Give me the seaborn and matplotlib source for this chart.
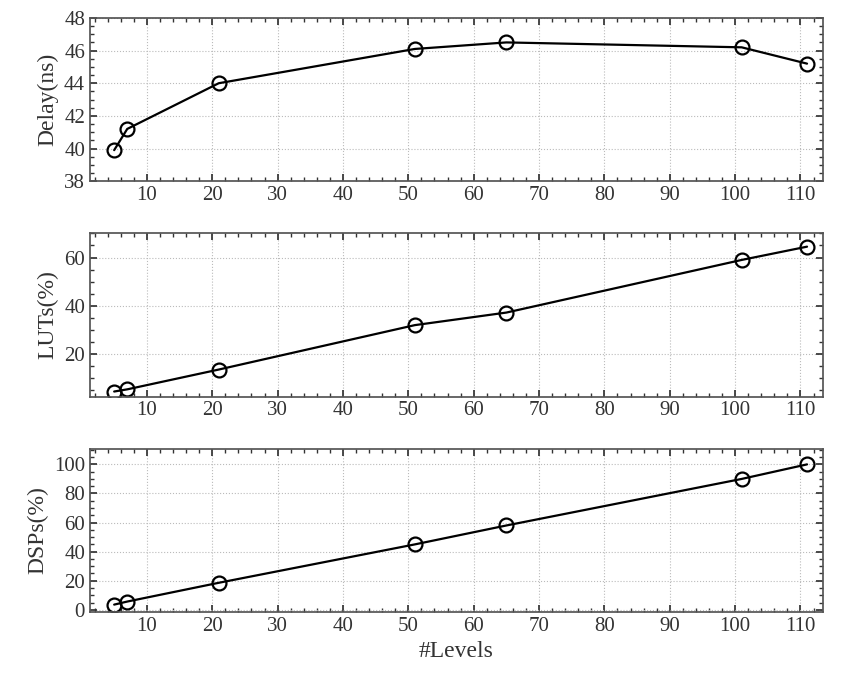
import numpy as np
import pandas as pd
import seaborn as sns
import matplotlib.pyplot as plt
from matplotlib.ticker import MultipleLocator

levels = [5, 7, 21, 51, 65, 101, 111]
delay = [39.9, 41.2, 44.0, 46.1, 46.5, 46.2, 45.2]
luts = [4.5, 5.4, 13.6, 32.0, 37.2, 59.0, 64.5]
dsps = [3.6, 5.7, 18.6, 45.0, 58.0, 90.0, 100.0]

sns.set_theme(style="ticks")
plt.rcParams['font.family'] = ['Liberation Serif', 'DejaVu Serif']

df = pd.DataFrame({'levels': levels, 'Delay(ns)': delay, 'LUTs(%)': luts, 'DSPs(%)': dsps})

fig, axes = plt.subplots(3, 1, figsize=(8.57, 6.9), dpi=100)
fig.subplots_adjust(left=0.105, right=0.96, top=0.974, bottom=0.113, hspace=0.32)

cfg = [
    ('Delay(ns)', (38, 48), 2, 0.5),
    ('LUTs(%)', (2.4, 70), 20, 5),
    ('DSPs(%)', (-1.5, 110.7), 20, 5),
]
for ax, (col, ylim, maj, mnr) in zip(axes, cfg):
    sns.lineplot(data=df, x='levels', y=col, ax=ax, color='black', lw=1.6,
                 marker='o', markersize=10, markerfacecolor='none',
                 markeredgecolor='black', markeredgewidth=1.6)
    ax.set_xlim(1.3, 113.4)
    ax.set_ylim(*ylim)
    ax.xaxis.set_major_locator(MultipleLocator(10))
    ax.xaxis.set_minor_locator(MultipleLocator(2))
    ax.yaxis.set_major_locator(MultipleLocator(maj))
    ax.yaxis.set_minor_locator(MultipleLocator(mnr))
    ax.tick_params(which='both', direction='in', top=True, right=True,
                   labelsize=15, colors='#333333')
    ax.tick_params(which='major', length=5)
    ax.tick_params(which='minor', length=3)
    ax.grid(True, which='major', ls=':', color='#bbbbbb', lw=0.8)
    for s in ax.spines.values():
        s.set_color('#555555')
    ax.set_ylabel(col, fontsize=17, color='#333333')
    ax.set_xlabel('')
    ax.set_xticks([10, 20, 30, 40, 50, 60, 70, 80, 90, 100, 110])

axes[-1].set_xlabel('#Levels', fontsize=17, color='#333333')
fig.savefig('out.png')
